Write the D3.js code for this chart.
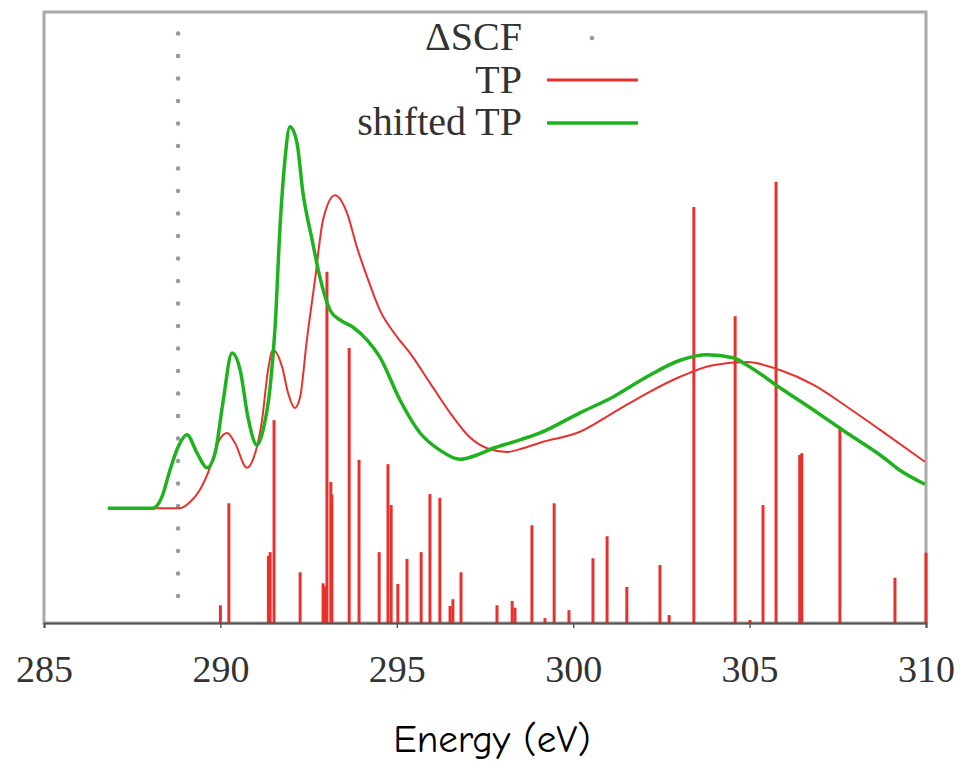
<!DOCTYPE html>
<html>
<head>
<meta charset="utf-8">
<script src="https://cdn.jsdelivr.net/npm/d3@7"></script>
<style>
  body { margin: 0; background: #fff; }
  .tick-label { font-family: "Liberation Serif", "DejaVu Serif", serif; fill: #333; }
  .legend-label { font-family: "Liberation Serif", "DejaVu Serif", serif; fill: #333; }
  .axis-title { font-family: "Comic Sans MS", "Comic Neue", "DejaVu Sans", sans-serif; fill: #000; }
</style>
</head>
<body>
<div id="chart"></div>
<script>
// stick spectrum (TP transitions)
const stickEnergy = [290.0, 290.24, 291.36, 291.41, 291.52, 292.26, 292.91, 292.95, 293.02, 293.13, 293.16,
  293.65, 293.93, 294.50, 294.75, 294.84, 295.03, 295.29, 295.69, 295.94, 296.22, 296.51,
  296.59, 296.82, 297.84, 298.27, 298.35, 298.83, 299.2, 299.46, 299.88, 300.56, 300.96,
  301.52, 302.46, 302.72, 303.42, 304.59, 305.01, 305.38, 305.75, 306.42, 306.48, 307.56,
  309.12, 310.0];
const stickIntensity = [2.9, 19.6, 11.0, 11.6, 33.2, 8.3, 6.5, 6.0, 57.5, 23.1, 21.0,
  45.0, 26.7, 11.6, 26.0, 19.3, 6.4, 10.5, 11.6, 21.1, 20.5, 2.8,
  3.9, 8.3, 2.9, 3.6, 2.5, 16.0, 0.8, 19.6, 2.1, 10.6, 14.2,
  5.9, 9.5, 1.3, 68.1, 50.2, 0.5, 19.3, 72.2, 27.5, 27.8, 32.1,
  7.4, 11.5];

// broadened TP spectrum (offset)
const tpEnergy = [286.81, 288.85, 289.14, 289.42, 289.71, 289.93, 290.19, 290.41, 290.75, 290.92,
  291.18, 291.35, 291.49, 291.75, 291.92, 292.11, 292.26, 292.45, 292.68, 292.91, 293.25,
  293.59, 293.87, 294.16, 294.52, 295.01, 295.37, 295.94, 296.51, 297.07, 297.56, 298.12,
  298.58, 299.06, 300.19, 301.13, 302.09, 303.03, 303.96, 304.93, 305.86, 306.80, 307.76,
  308.70, 309.97];
const tpIntensity = [18.8, 18.8, 19.8, 21.8, 25.5, 29.5, 31.1, 29.5, 25.4, 26.7,
  33.2, 41.4, 44.7, 41.9, 37.6, 35.2, 37.0, 46.3, 56.1, 66.0, 70.0,
  67.1, 61.5, 56.6, 51.2, 46.8, 44.2, 39.3, 34.4, 30.4, 28.6, 28.0,
  28.6, 29.5, 31.3, 34.4, 37.6, 40.3, 42.2, 42.7, 41.4, 39.0, 35.4,
  31.6, 26.4];

// shifted TP spectrum
const shiftedEnergy = [286.81, 288.09, 288.34, 288.57, 288.80, 289.05, 289.34, 289.62, 289.85, 290.07,
  290.33, 290.56, 290.78, 291.04, 291.21, 291.41, 291.55, 291.69, 291.83, 291.97, 292.17,
  292.34, 292.60, 292.82, 293.11, 293.39, 293.76, 294.16, 294.52, 295.09, 295.66, 296.22,
  296.79, 297.27, 297.73, 298.29, 299.06, 300.19, 301.13, 302.09, 303.03, 303.79, 304.53,
  304.93, 305.86, 306.80, 307.76, 308.70, 309.26, 309.97];
const shiftedIntensity = [18.8, 18.8, 20.6, 25.0, 28.8, 30.8, 27.8, 25.4, 27.8, 36.0,
  44.2, 41.4, 33.7, 29.1, 31.6, 38.6, 48.4, 64.8, 75.8, 81.2, 78.6,
  70.4, 62.7, 56.6, 51.2, 49.6, 48.4, 46.3, 43.5, 36.5, 31.1, 28.3,
  26.8, 27.5, 28.6, 29.6, 31.1, 34.4, 37.0, 40.3, 43.0, 43.9, 43.4,
  42.2, 38.5, 34.9, 31.1, 27.5, 25.0, 22.7];

const deltaSCF = 288.8;
const deltaSCFRange = [3.5, 96.5];

const xTicks = [285, 290, 295, 300, 305, 310];
const legendLabels = ["\u0394SCF", "TP", "shifted TP"];
const xTitle = "Energy (eV)";

const red = "#e8312c";
const green = "#1fb21f";

const width = 966, height = 761;
const margin = {left: 44, right: 40, top: 12, bottom: 138};

const svg = d3.select("#chart").append("svg")
    .attr("width", width)
    .attr("height", height);

const x = d3.scaleLinear()
    .domain([285, 310])
    .range([margin.left, width - margin.right]);

const y = d3.scaleLinear()
    .domain([0, 100])
    .range([height - margin.bottom, margin.top]);

// frame (gray box)
svg.append("rect")
    .attr("x", x(285))
    .attr("y", y(100))
    .attr("width", x(310) - x(285))
    .attr("height", y(0) - y(100))
    .attr("fill", "none")
    .attr("stroke", "#aaa")
    .attr("stroke-width", 3);

// delta SCF dotted line
svg.append("line")
    .attr("x1", x(deltaSCF))
    .attr("x2", x(deltaSCF))
    .attr("y1", y(deltaSCFRange[1]))
    .attr("y2", y(deltaSCFRange[0]))
    .attr("stroke", "#999")
    .attr("stroke-width", 4.5)
    .attr("stroke-linecap", "round")
    .attr("stroke-dasharray", "0,22.5");

// sticks
svg.append("g").selectAll("line")
    .data(stickEnergy)
    .enter().append("line")
    .attr("x1", d => x(d))
    .attr("x2", d => x(d))
    .attr("y1", y(0))
    .attr("y2", (d, i) => y(stickIntensity[i]))
    .attr("stroke", red)
    .attr("stroke-width", 3);

const line = d3.line()
    .x(d => x(d[0]))
    .y(d => y(d[1]))
    .curve(d3.curveMonotoneX);

svg.append("path")
    .datum(tpEnergy.map((e, i) => [e, tpIntensity[i]]))
    .attr("fill", "none")
    .attr("stroke", red)
    .attr("stroke-width", 2)
    .attr("d", line);

svg.append("path")
    .datum(shiftedEnergy.map((e, i) => [e, shiftedIntensity[i]]))
    .attr("fill", "none")
    .attr("stroke", green)
    .attr("stroke-width", 3.5)
    .attr("d", line);

// x axis
const xAxis = svg.append("g")
    .attr("transform", "translate(0," + y(0) + ")")
    .call(d3.axisBottom(x).tickValues(xTicks).tickSize(5).tickPadding(27).tickFormat(d3.format("d")));
xAxis.select(".domain").attr("stroke", "#555").attr("stroke-width", 2);
xAxis.selectAll(".tick line").attr("stroke", "#555").attr("stroke-width", 1.5);
xAxis.selectAll(".tick text")
    .attr("class", "tick-label")
    .attr("font-size", 38)
    .attr("fill", "#333")
    .style("font-family", "'Liberation Serif', 'DejaVu Serif', serif");

// x title
svg.append("text")
    .attr("class", "axis-title")
    .attr("x", 492)
    .attr("y", 752)
    .attr("text-anchor", "middle")
    .attr("font-size", 39)
    .text(xTitle);

// legend
const legend = svg.append("g").attr("transform", "translate(522,0)");
const rowY = [50, 93, 135];
legend.selectAll("text")
    .data(legendLabels)
    .enter().append("text")
    .attr("class", "legend-label")
    .attr("x", 0)
    .attr("y", (d, i) => rowY[i])
    .attr("text-anchor", "end")
    .attr("font-size", 40)
    .text(d => d);

legend.append("circle")
    .attr("cx", 70)
    .attr("cy", rowY[0] - 12)
    .attr("r", 2.3)
    .attr("fill", "#999");

legend.append("line")
    .attr("x1", 25).attr("x2", 116)
    .attr("y1", rowY[1] - 13).attr("y2", rowY[1] - 13)
    .attr("stroke", red).attr("stroke-width", 3);

legend.append("line")
    .attr("x1", 25).attr("x2", 116)
    .attr("y1", rowY[2] - 12).attr("y2", rowY[2] - 12)
    .attr("stroke", green).attr("stroke-width", 3.5);
</script>
</body>
</html>
